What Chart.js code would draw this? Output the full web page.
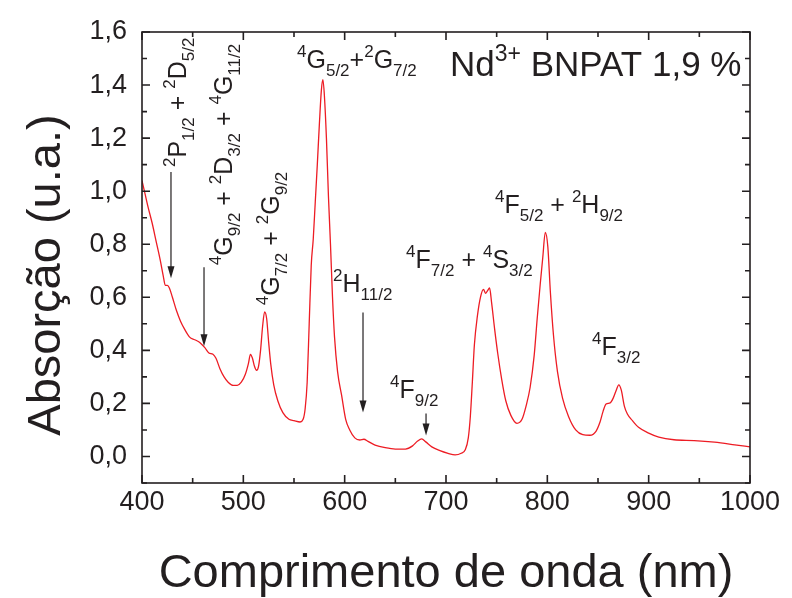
<!DOCTYPE html>
<html>
<head>
  <title>Nd3+ BNPAT absorption</title>
  <script src="https://cdn.jsdelivr.net/npm/chart.js"></script>
  <style>
    body { margin: 0; background: #fff; }
    #wrap { width: 792px; height: 598px; }
  </style>
</head>
<body>
  <div id="wrap"><canvas id="spec" width="792" height="598"></canvas></div>

  <script>
    // spectrum: wavelength (nm) and absorbance (u.a.)
    const wavelength = [400, 403, 406, 410, 414, 418, 421, 423, 425, 427, 430, 434, 438, 442, 447, 452, 457, 462, 466, 470,
      473, 477, 481, 485, 490, 494, 498, 502, 505, 507, 509, 511, 513, 515, 517, 519, 521, 523, 525, 527,
      530, 534, 539, 545, 550, 556, 559, 561, 563, 565, 567, 569, 571, 573, 575, 577, 578.5, 580, 582, 584,
      586, 588, 590, 593, 597, 601, 605, 610, 615, 619, 623, 630, 640, 650, 660, 667, 672, 676, 680, 686,
      694, 702, 709, 715, 719, 722, 724, 726, 728, 731, 734, 737, 739, 741, 743, 745, 748, 751, 755, 759,
      764, 770, 775, 779, 783, 787, 790, 793, 795.5, 798, 800.5, 803, 806, 810, 815, 821, 828, 835, 842, 848,
      852, 855, 858, 862, 865, 868, 870.5, 873, 876, 879, 884, 890, 900, 910, 925, 945, 965, 985, 1000];
    const absorbance = [1.04, 0.99, 0.94, 0.88, 0.81, 0.74, 0.68, 0.645, 0.645, 0.635, 0.60, 0.55, 0.51, 0.48, 0.45, 0.44, 0.43, 0.41, 0.39, 0.385,
      0.37, 0.33, 0.30, 0.28, 0.268, 0.268, 0.28, 0.31, 0.35, 0.385, 0.37, 0.34, 0.325, 0.34, 0.40, 0.49, 0.545, 0.52, 0.43, 0.35,
      0.27, 0.21, 0.165, 0.14, 0.135, 0.13, 0.14, 0.18, 0.28, 0.50, 0.72, 0.82, 0.96, 1.10, 1.25, 1.38, 1.42, 1.36, 1.20, 0.98,
      0.80, 0.60, 0.45, 0.32, 0.23, 0.14, 0.10, 0.07, 0.062, 0.065, 0.057, 0.043, 0.033, 0.028, 0.028, 0.04, 0.058, 0.066, 0.055, 0.036,
      0.022, 0.012, 0.006, 0.012, 0.025, 0.07, 0.15, 0.28, 0.42, 0.53, 0.60, 0.63, 0.615, 0.625, 0.635, 0.58, 0.48, 0.39, 0.29, 0.21,
      0.155, 0.125, 0.14, 0.19, 0.26, 0.38, 0.52, 0.65, 0.75, 0.845, 0.79, 0.62, 0.46, 0.32, 0.22, 0.15, 0.10, 0.082, 0.08, 0.095,
      0.13, 0.17, 0.198, 0.202, 0.22, 0.25, 0.27, 0.25, 0.19, 0.16, 0.135, 0.11, 0.088, 0.073, 0.063, 0.06, 0.054, 0.044, 0.036];

    const xMajor = [400, 500, 600, 700, 800, 900, 1000];
    const xMinor = [450, 550, 650, 750, 850, 950];
    const yMajor = [0, 0.2, 0.4, 0.6, 0.8, 1.0, 1.2, 1.4, 1.6];
    const yMinor = [-0.1, 0.1, 0.3, 0.5, 0.7, 0.9, 1.1, 1.3, 1.5];

    // band labels: ^ = superscript, _ = subscript
    const bandLabels = [
      { text: "^2P_{1/2} + ^2D_{5/2}", x: 443, y: 1.091, rot: true },
      { text: "^4G_{9/2} + ^2D_{3/2} + ^4G_{11/2}", x: 488.5, y: 0.721, rot: true },
      { text: "^4G_{7/2} + ^2G_{9/2}", x: 535, y: 0.57, rot: true },
      { text: "^4G_{5/2}+^2G_{7/2}", x: 553, y: 1.464 },
      { text: "^2H_{11/2}", x: 588.5, y: 0.619 },
      { text: "^4F_{9/2}", x: 644.8, y: 0.219 },
      { text: "^4F_{7/2} + ^4S_{3/2}", x: 660.6, y: 0.709 },
      { text: "^4F_{5/2} + ^2H_{9/2}", x: 748.4, y: 0.917 },
      { text: "^4F_{3/2}", x: 844.1, y: 0.381 }
    ];
    const arrows = [
      { x: 428.6, from: 1.072, to: 0.672 },
      { x: 461.2, from: 0.713, to: 0.415 },
      { x: 618.1, from: 0.543, to: 0.166 },
      { x: 680.3, from: 0.162, to: 0.079 }
    ];
    const sampleLabel = { text: "Nd^{3+} BNPAT 1,9 %", x: 704, y: 1.434 };
    const yTitle = 'Absorção (u.a.)';

    const FONT = '"Liberation Sans", Arial, sans-serif';
    const INK = '#231f20';

    function parseRich(str) {
      const parts = [];
      let i = 0, buf = '';
      while (i < str.length) {
        const c = str[i];
        if (c === '^' || c === '_') {
          if (buf) { parts.push([buf, 'n']); buf = ''; }
          let t;
          if (str[i + 1] === '{') {
            const end = str.indexOf('}', i);
            t = str.slice(i + 2, end);
            i = end + 1;
          } else {
            t = str[i + 1];
            i += 2;
          }
          parts.push([t, c === '^' ? 'sup' : 'sub']);
        } else {
          buf += c;
          i++;
        }
      }
      if (buf) parts.push([buf, 'n']);
      return parts;
    }

    function drawRich(ctx, str, x, y, rot, big, small, supDy, subDy) {
      ctx.save();
      ctx.translate(x, y);
      if (rot) ctx.rotate(-Math.PI / 2);
      ctx.fillStyle = INK;
      ctx.textAlign = 'left';
      ctx.textBaseline = 'alphabetic';
      let cx = 0;
      parseRich(str).forEach(([t, k]) => {
        ctx.font = (k === 'n' ? big : small) + 'px ' + FONT;
        const dy = k === 'sup' ? supDy : k === 'sub' ? subDy : 0;
        ctx.fillText(t, cx, dy);
        cx += ctx.measureText(t).width;
      });
      ctx.restore();
    }

    const framePlugin = {
      id: 'frame',
      afterDraw(chart) {
        const { ctx, chartArea: a, scales: { x, y } } = chart;
        ctx.save();
        ctx.strokeStyle = INK;
        ctx.lineWidth = 1.6;
        ctx.strokeRect(a.left, a.top, a.right - a.left, a.bottom - a.top);
        ctx.beginPath();
        const tickX = (v, len) => {
          const px = x.getPixelForValue(v);
          ctx.moveTo(px, a.bottom); ctx.lineTo(px, a.bottom - len);
          ctx.moveTo(px, a.top); ctx.lineTo(px, a.top + len);
        };
        const tickY = (v, len) => {
          const py = y.getPixelForValue(v);
          ctx.moveTo(a.left, py); ctx.lineTo(a.left + len, py);
          ctx.moveTo(a.right, py); ctx.lineTo(a.right - len, py);
        };
        xMajor.forEach(v => tickX(v, 8));
        xMinor.forEach(v => tickX(v, 5));
        yMajor.forEach(v => tickY(v, 8));
        yMinor.forEach(v => tickY(v, 5));
        ctx.stroke();

        // y axis title, placed a bit below the plot centre like the original
        ctx.translate(47, 275);
        ctx.rotate(-Math.PI / 2);
        ctx.fillStyle = INK;
        ctx.font = '47px ' + FONT;
        ctx.textAlign = 'center';
        ctx.textBaseline = 'middle';
        ctx.fillText(yTitle, 0, 0);
        ctx.restore();
      }
    };

    const labelPlugin = {
      id: 'bands',
      afterDraw(chart) {
        const { ctx, scales: { x, y } } = chart;
        bandLabels.forEach(l => {
          drawRich(ctx, l.text, x.getPixelForValue(l.x), y.getPixelForValue(l.y), l.rot, 25, 17, -11, 8);
        });
        drawRich(ctx, sampleLabel.text, x.getPixelForValue(sampleLabel.x), y.getPixelForValue(sampleLabel.y),
          false, 35, 23, -15, 10);

        ctx.save();
        ctx.strokeStyle = INK;
        ctx.fillStyle = INK;
        ctx.lineWidth = 1.2;
        arrows.forEach(ar => {
          const px = x.getPixelForValue(ar.x);
          const p1 = y.getPixelForValue(ar.from);
          const p2 = y.getPixelForValue(ar.to);
          ctx.beginPath();
          ctx.moveTo(px, p1);
          ctx.lineTo(px, p2 - 10);
          ctx.stroke();
          ctx.beginPath();
          ctx.moveTo(px - 3.5, p2 - 12);
          ctx.lineTo(px + 3.5, p2 - 12);
          ctx.lineTo(px, p2);
          ctx.closePath();
          ctx.fill();
        });
        ctx.restore();
      }
    };

    const ctx = document.getElementById('spec').getContext('2d');
    new Chart(ctx, {
      type: 'line',
      data: {
        datasets: [{
          data: wavelength.map((w, i) => ({ x: w, y: absorbance[i] })),
          borderColor: 'rgb(237, 28, 36)',
          borderWidth: 1.3,
          pointRadius: 0,
          cubicInterpolationMode: 'monotone',
          fill: false
        }]
      },
      options: {
        responsive: false,
        animation: false,
        layout: { padding: { top: 32, right: 42, left: 0, bottom: 0 } },
        plugins: { legend: { display: false }, tooltip: { enabled: false } },
        scales: {
          x: {
            type: 'linear',
            min: 400,
            max: 1000,
            afterBuildTicks: s => { s.ticks = xMajor.map(v => ({ value: v })); },
            afterFit: s => { s.height = 115; },
            grid: { display: false, drawTicks: false },
            border: { display: false },
            ticks: {
              color: INK,
              font: { family: FONT, size: 27 },
              padding: 3,
              maxRotation: 0,
              callback: v => String(v)
            },
            title: {
              display: true,
              text: 'Comprimento de onda (nm)',
              color: INK,
              font: { family: FONT, size: 47, lineHeight: 1 },
              padding: 0
            }
          },
          y: {
            min: -0.1,
            max: 1.6,
            afterBuildTicks: s => { s.ticks = yMajor.map(v => ({ value: v })); },
            afterFit: s => { s.width = 142; },
            grid: { display: false, drawTicks: false },
            border: { display: false },
            ticks: {
              color: INK,
              font: { family: FONT, size: 27 },
              padding: 15,
              callback: v => v.toFixed(1).replace('.', ',')
            }
          }
        }
      },
      plugins: [framePlugin, labelPlugin]
    });
  </script>
</body>
</html>
